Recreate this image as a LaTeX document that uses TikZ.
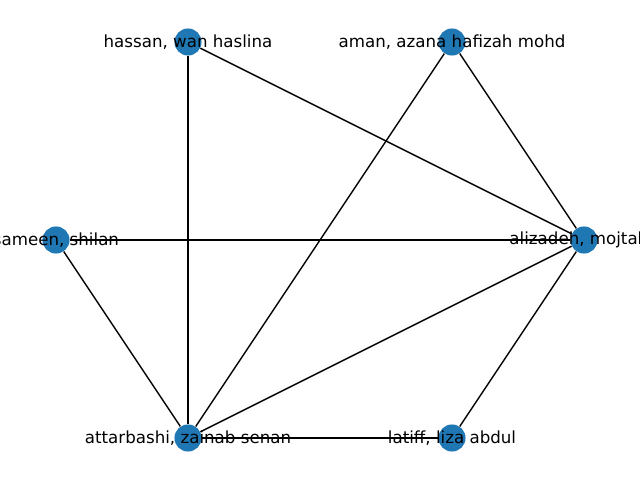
\documentclass[tikz,border=0pt]{standalone}
\usepackage{fontspec}
\setmainfont{DejaVu Sans}
\usetikzlibrary{backgrounds}
\definecolor{nxblue}{RGB}{31, 119, 180}

\tikzset{
    author/.style = {circle, fill=nxblue, draw=none, minimum size=19.5pt, inner sep=0pt},
    namelabel/.style = {font=\fontsize{12}{14}\selectfont, text=black, inner sep=0pt},
    link/.style = {black, line width=1pt}
}

\begin{document}
\begin{tikzpicture}[x=0.72pt, y=0.72pt]
            % Frame of the figure
            \useasboundingbox                                                 (0, 0) rectangle (640, 480);
            \clip                                                             (0, 0) rectangle (640, 480);
            % Authors
            \node[author] (hassan)     at (188, 438) {};
            \node[author] (aman)       at (452, 438) {};
            \node[author] (sameen)     at ( 56, 240) {};
            \node[author] (alizadeh)   at (584, 240) {};
            \node[author] (attarbashi) at (188,  42) {};
            \node[author] (latiff)     at (452,  42) {};
            % Co-authorships
            \begin{pgfonlayer}{background}
                \draw[link] (hassan)     -- (alizadeh);
                \draw[link] (hassan)     -- (attarbashi);
                \draw[link] (aman)       -- (attarbashi);
                \draw[link] (aman)       -- (alizadeh);
                \draw[link] (sameen)     -- (alizadeh);
                \draw[link] (sameen)     -- (attarbashi);
                \draw[link] (attarbashi) -- (alizadeh);
                \draw[link] (attarbashi) -- (latiff);
                \draw[link] (latiff)     -- (alizadeh);
            \end{pgfonlayer}
            % Names
            \node[namelabel] (hassan-name)     at (hassan)     {hassan, wan haslina};
            \node[namelabel] (aman-name)       at (aman)       {aman, azana hafizah mohd};
            \node[namelabel] (sameen-name)     at (sameen)     {sameen, shilan};
            \node[namelabel] (alizadeh-name)   at (alizadeh)   {alizadeh, mojtaba};
            \node[namelabel] (attarbashi-name) at (attarbashi) {attarbashi, zainab senan};
            \node[namelabel] (latiff-name)     at (latiff)     {latiff, liza abdul};
\end{tikzpicture}
\end{document}
